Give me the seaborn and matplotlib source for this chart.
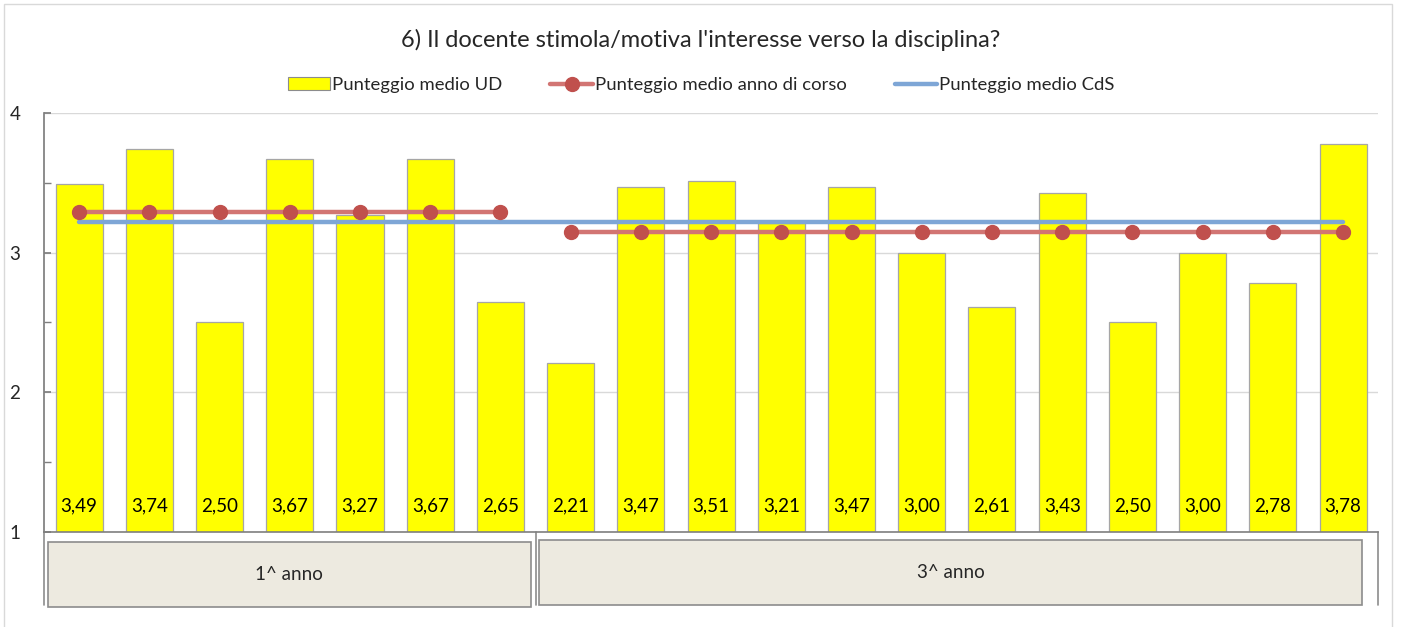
import numpy as np
import pandas as pd
import seaborn as sns
import matplotlib.pyplot as plt
from matplotlib.patches import Rectangle
from matplotlib.lines import Line2D

# data
ud_labels = [f"UD{i+1}" for i in range(19)]
ud_scores = [3.49, 3.74, 2.50, 3.67, 3.27, 3.67, 2.65,
             2.21, 3.47, 3.51, 3.21, 3.47, 3.00, 2.61, 3.43, 2.50, 3.00, 2.78, 3.78]
groups = ["1^ anno"] * 7 + ["3^ anno"] * 12
year_means = {"1^ anno": 3.29, "3^ anno": 3.15}
cds_mean = 3.22

df = pd.DataFrame({"ud": ud_labels, "score": ud_scores, "group": groups})
df["pos"] = np.arange(len(df))
df["year_mean"] = df["group"].map(year_means)
df["cds"] = cds_mean

sns.set_theme(style="white")
plt.rcParams["font.family"] = ["Lato", "DejaVu Sans"]

fig = plt.figure(figsize=(14.02, 6.27), dpi=100)
ax = fig.add_axes([0.0314, 0.1515, 0.9516, 0.6683])

sns.barplot(data=df, x="ud", y="score", color="#FFFF00", edgecolor="#A6A6A6",
            linewidth=0.9, width=0.67, saturation=1, ax=ax, zorder=2)

ax.set_ylim(1, 4)
ax.set_xlim(-0.5, len(df) - 0.5)

sns.lineplot(x=df["pos"], y=df["cds"], color="#7EA6D6", linewidth=3.2, ax=ax, zorder=3)
for g, sub in df.groupby("group"):
    sns.lineplot(x=sub["pos"], y=sub["year_mean"], color="#D27573", linewidth=3.2,
                 ax=ax, zorder=4)
    ax.plot(sub["pos"], sub["year_mean"], linestyle="none", marker="o",
            markersize=10, color="#C0504D", zorder=5)

# value labels inside bars
for p, v in zip(df["pos"], df["score"]):
    ax.text(p, 1.19, f"{v:.2f}".replace(".", ","), ha="center", va="center",
            fontsize=13.5, color="#000000", zorder=6)

ax.set_yticks([1, 2, 3, 4])
ax.set_yticks([1.5, 2.5, 3.5], minor=True)
ax.set_yticklabels(["1", "2", "3", "4"], fontsize=13.5)
ax.tick_params(axis="y", which="both", direction="in", length=5, color="#7F7F7F",
               left=True, pad=17)
ax.set_xticks([])
ax.set_xlabel("")
ax.set_ylabel("")
ax.grid(axis="y", which="major", color="#D9D9D9", linewidth=1, zorder=0)
for s in ["top", "right"]:
    ax.spines[s].set_visible(False)
ax.spines["left"].set_color("#7F7F7F")
ax.spines["bottom"].set_color("#7F7F7F")
ax.spines["bottom"].set_linewidth(1.2)

# group boxes under axis
trans = ax.get_xaxis_transform()
for xv in [-0.5, 6.5, 18.5]:
    ax.plot([xv, xv], [0, -0.175], color="#8C8C8C", lw=1.2, transform=trans, clip_on=False)
boxes = [("1^ anno", -0.45, 6.43, -0.025), ("3^ anno", 6.55, 18.27, -0.02)]
for name, x0, x1, top in boxes:
    ax.add_patch(Rectangle((x0, top), x1 - x0, -0.155, transform=trans,
                           facecolor="#EDEAE0", edgecolor="#8C8C8C", lw=1.2,
                           clip_on=False, zorder=1))
    ax.text((x0 + x1) / 2, top - 0.0775, name, transform=trans, ha="center",
            va="center", fontsize=13.5)

fig.text(0.5, 0.936, "6) Il docente stimola/motiva l'interesse verso la disciplina?",
         ha="center", va="center", fontsize=17)

handles = [
    Rectangle((0, 0), 1, 1, facecolor="#FFFF00", edgecolor="#8C8C8C", lw=0.8),
    Line2D([], [], color="#D27573", lw=3.2, marker="o", markersize=10,
           markerfacecolor="#C0504D", markeredgecolor="#C0504D"),
    Line2D([], [], color="#7EA6D6", lw=3.2),
]
fig.legend(handles, ["Punteggio medio UD", "Punteggio medio anno di corso", "Punteggio medio CdS"],
           loc="center", bbox_to_anchor=(0.5, 0.864), ncol=3, frameon=False,
           fontsize=13.3, handlelength=2.3, handletextpad=0.1, columnspacing=2.6)

fig.add_artist(Rectangle((0.003, -0.01), 0.990, 1.004, transform=fig.transFigure,
                         fill=False, edgecolor="#D9D9D9", lw=1))

fig.savefig("out.png", dpi=100)
